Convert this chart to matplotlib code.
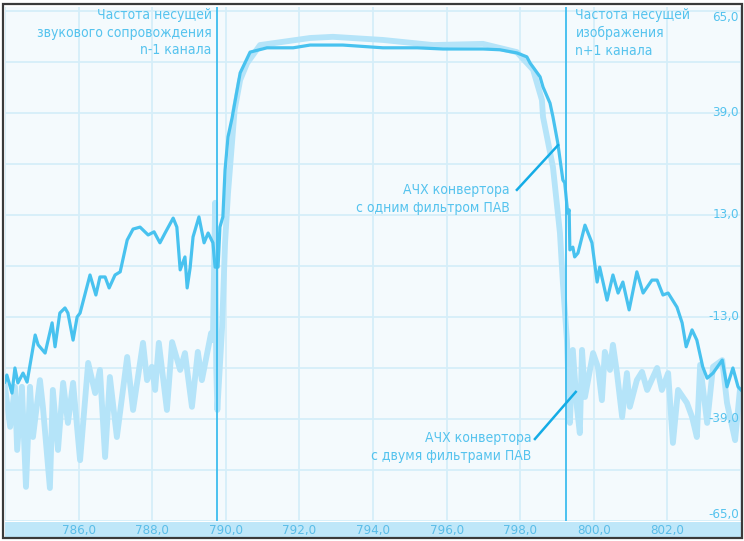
"""Frequency response of the SAW-filter converter: one filter vs two filters."""

import matplotlib
matplotlib.use("Agg")
import matplotlib.pyplot as plt
from matplotlib import font_manager
from matplotlib.patches import Rectangle
import matplotlib.transforms as mtransforms
import numpy as np

# converter with one SAW filter: frequency (MHz), level (dB)
one_f = [784.0, 784.05, 784.19, 784.27, 784.35, 784.49, 784.60, 784.82, 784.90, 785.09,
         785.28, 785.36, 785.49, 785.63, 785.71, 785.85, 785.96, 786.04, 786.31, 786.47,
         786.58, 786.72, 786.83, 786.99, 787.13, 787.32, 787.48, 787.67, 787.89, 788.05,
         788.21, 788.35, 788.57, 788.67, 788.76, 788.89, 788.95, 789.03, 789.11, 789.27,
         789.41, 789.52, 789.65, 789.71, 789.79, 789.84, 789.92, 789.98, 790.06, 790.17,
         790.39, 790.66, 791.12, 791.83, 792.29, 793.18, 794.27, 795.20, 795.90, 796.99,
         797.45, 797.91, 798.18, 798.27, 798.54, 798.62, 798.81, 798.89, 799.02, 799.16,
         799.21, 799.29, 799.33, 799.35, 799.43, 799.48, 799.57, 799.76, 799.95, 800.09,
         800.16, 800.36, 800.52, 800.66, 800.79, 800.96, 801.17, 801.34, 801.58, 801.72,
         801.88, 802.02, 802.26, 802.40, 802.51, 802.67, 802.80, 802.96, 803.08, 803.24,
         803.49, 803.62, 803.78, 803.92, 804.0]
one_db = [-29.6, -27.8, -32.4, -26.0, -29.8, -27.3, -29.6, -17.6, -20.1, -22.2,
          -14.5, -20.6, -12.0, -10.7, -12.0, -18.9, -13.0, -12.0, -2.3, -7.4,
          -2.8, -2.8, -5.6, -2.3, -1.5, 6.6, 9.4, 9.9, 7.9, 8.7,
          5.9, 8.4, 12.2, 9.9, -1.0, 2.3, -5.6, -0.5, 7.4, 12.5,
          5.9, 8.4, 5.9, -0.3, -0.3, 9.9, 12.5, 24.5, 32.9, 37.7,
          49.2, 54.5, 55.6, 55.6, 56.3, 56.3, 55.6, 55.6, 55.3, 55.3,
          55.1, 54.3, 53.3, 51.7, 48.2, 45.6, 41.5, 38.0, 31.4, 21.9,
          21.2, 13.5, 14.3, 4.1, 4.8, 2.3, 3.3, 10.4, 5.9, -4.1,
          -0.3, -8.7, -2.3, -6.9, -4.1, -11.2, -1.5, -6.9, -3.6, -3.6,
          -7.4, -6.9, -10.5, -14.5, -20.6, -16.3, -18.9, -25.7, -28.6, -27.3,
          -24.0, -30.8, -26.0, -30.8, -31.6]

# converter with two SAW filters
two_f = [784.0, 784.14, 784.27, 784.33, 784.46, 784.57, 784.68, 784.76, 784.95, 785.03,
         785.22, 785.30, 785.44, 785.58, 785.71, 785.85, 786.04, 786.26, 786.45, 786.58,
         786.72, 786.85, 787.04, 787.32, 787.48, 787.75, 787.86, 787.99, 788.08, 788.18,
         788.40, 788.54, 788.76, 788.89, 789.08, 789.24, 789.35, 789.60, 789.65, 789.71,
         789.74, 789.77, 789.90, 789.98, 790.06, 790.24, 790.39, 790.58, 790.93, 792.29,
         792.91, 794.27, 795.63, 796.99, 797.91, 798.35, 798.59, 798.62, 798.89, 799.08,
         799.16, 799.27, 799.35, 799.43, 799.54, 799.62, 799.68, 799.76, 799.98, 800.11,
         800.22, 800.30, 800.44, 800.52, 800.63, 800.77, 800.90, 800.98, 801.17, 801.31,
         801.45, 801.72, 801.85, 802.02, 802.15, 802.29, 802.53, 802.67, 802.80, 802.89,
         803.08, 803.24, 803.49, 803.62, 803.84, 803.97]
two_db = [-30.8, -41.0, -30.8, -46.9, -30.8, -56.3, -30.8, -43.6, -29.1, -35.9,
          -56.6, -31.6, -46.9, -29.8, -40.0, -29.8, -49.5, -24.7, -32.4, -26.5,
          -48.7, -28.3, -43.6, -23.2, -36.7, -19.6, -29.1, -25.7, -31.6, -19.6,
          -36.7, -19.4, -26.5, -22.2, -35.9, -21.9, -29.1, -17.1, -18.9, 16.1,
          -25.7, -36.7, -15.5, 5.9, 18.6, 39.8, 47.4, 51.7, 56.3, 58.1,
          58.4, 57.6, 56.3, 56.6, 54.5, 50.0, 42.3, 38.0, 25.2, 8.4,
          -4.3, -18.9, -40.0, -21.4, -35.9, -42.6, -21.4, -33.4, -22.2, -25.7,
          -34.2, -21.9, -26.5, -20.1, -27.3, -38.5, -27.3, -35.9, -29.1, -27.0,
          -31.6, -26.0, -31.6, -27.3, -45.1, -31.6, -34.9, -38.5, -43.6, -25.2,
          -40.0, -25.7, -24.0, -34.9, -44.4, -31.6]

x_ticks = [786, 788, 790, 792, 794, 796, 798, 800, 802]
x_labels = ["786,0", "788,0", "790,0", "792,0", "794,0", "796,0", "798,0", "800,0", "802,0"]
y_ticks = [65, 39, 13, -13, -39, -65]
y_labels = ["65,0", "39,0", "13,0", "-13,0", "-39,0", "-65,0"]

sound_carrier = 789.75   # n-1 channel sound carrier
video_carrier = 799.25   # n+1 channel video carrier

# narrow face if one is around, otherwise the narrower of the stock sans fonts
cond = font_manager.FontProperties(family="DejaVu Sans", stretch="condensed")
if "Condensed" in font_manager.findfont(cond, fallback_to_default=False):
    FP = dict(family=["DejaVu Sans"], stretch="condensed")
    FS, TS = 10, 9.5
else:
    FP = dict(family=["Liberation Sans", "DejaVu Sans"])
    FS, TS = 9, 8.5

TXT = "#55c3ee"
W, H = 744, 541


def box(x0, y0, x1, y1):
    return [x0 / W, 1 - y1 / H, (x1 - x0) / W, (y1 - y0) / H]


fig = plt.figure(figsize=(W / 100, H / 100), dpi=100)
ax = fig.add_axes(box(5, 7, 741, 521))
band = fig.add_axes(box(5, 522, 741, 537))

ax.set_facecolor("#f4fafd")
ax.set_xlim(784, 804)
ax.set_ylim(-65, 66)
ax.set_xticks(np.arange(784, 805, 2))
ax.set_yticks(np.arange(-65, 66, 13))
ax.grid(True, color="#d5eef9", lw=1.3)
ax.tick_params(length=0, labelbottom=False, labelleft=False)
for s in ax.spines.values():
    s.set_visible(False)

ax.plot(two_f, two_db, color="#b5e4f9", lw=4.2, solid_joinstyle="round", zorder=3)
ax.plot(one_f, one_db, color="#48c2ef", lw=2.3, solid_joinstyle="round", zorder=4)
for xv in (sound_carrier, video_carrier):
    ax.axvline(xv, color="#3dbdee", lw=1.3, zorder=5)

# right-hand level scale, drawn inside the plot
trans = mtransforms.blended_transform_factory(ax.transAxes, ax.transData)
for v, lab in zip(y_ticks, y_labels):
    va = "top" if v == max(y_ticks) else ("bottom" if v == min(y_ticks) else "center")
    ax.text(0.997, v, lab, transform=trans, ha="right", va=va, color=TXT,
            fontsize=TS, zorder=6, **FP)

ax.text(789.62, 65.8, "Частота несущей\nзвукового сопровождения\nn-1 канала",
        ha="right", va="top", color=TXT, fontsize=FS, linespacing=1.35, **FP)
ax.text(799.5, 65.8, "Частота несущей\nизображения\nn+1 канала",
        ha="left", va="top", color=TXT, fontsize=FS, linespacing=1.35, **FP)

ax.text(797.72, 17.0, "АЧХ конвертора\nс одним фильтром ПАВ",
        ha="right", va="center", color=TXT, fontsize=FS, linespacing=1.35, **FP)
ax.plot([797.91, 799.03], [19.4, 30.8], color="#14ace6", lw=1.8, zorder=6)
ax.text(798.3, -46.1, "АЧХ конвертора\nс двумя фильтрами ПАВ",
        ha="right", va="center", color=TXT, fontsize=FS, linespacing=1.35, **FP)
ax.plot([798.40, 799.51], [-44.1, -32.1], color="#14ace6", lw=1.8, zorder=6)

# frequency scale strip
band.set_facecolor("#bfe7f9")
band.set_xlim(784, 804)
band.set_ylim(0, 1)
band.set_yticks([])
band.set_xticks([])
for s in band.spines.values():
    s.set_visible(False)
for xv, lab in zip(x_ticks, x_labels):
    band.text(xv, 0.45, lab, ha="center", va="center", color="#5bbde8",
              fontsize=TS, **FP)

fig.patches.append(Rectangle((3 / W, 1 - 538 / H), 739 / W, 534 / H,
                             transform=fig.transFigure, fill=False,
                             ec="#3a3a3a", lw=1.6))

fig.savefig("out.png", dpi=100)
